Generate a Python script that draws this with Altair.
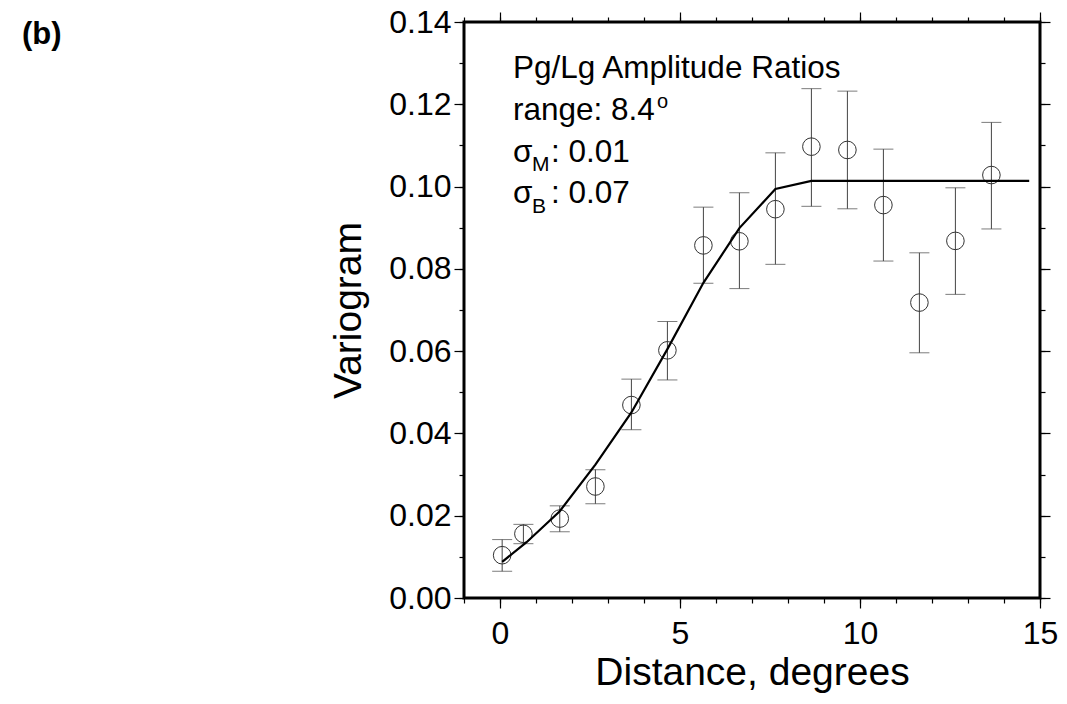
import altair as alt
import pandas as pd

# ---- data ----
dist = [0.06, 0.65, 1.66, 2.65, 3.65, 4.65, 5.65, 6.65, 7.65, 8.65, 9.65, 10.65, 11.65, 12.65, 13.65]
gamma = [0.0104, 0.0156, 0.0193, 0.0271, 0.0469, 0.0602, 0.0857, 0.0867, 0.0945, 0.1097, 0.1089, 0.0955, 0.0718, 0.0868, 0.1028]
err_lo = [0.0065, 0.0132, 0.0161, 0.0229, 0.0409, 0.0530, 0.0765, 0.0752, 0.0811, 0.0952, 0.0946, 0.0819, 0.0596, 0.0738, 0.0897]
err_hi = [0.0142, 0.0179, 0.0224, 0.0312, 0.0532, 0.0672, 0.0950, 0.0985, 0.1082, 0.1238, 0.1232, 0.1091, 0.0839, 0.0997, 0.1156]

model_dist = [0.06, 0.73, 1.66, 2.65, 3.65, 4.65, 5.65, 6.65, 7.65, 8.65, 14.7]
model_gamma = [0.0088, 0.0135, 0.0211, 0.0324, 0.0451, 0.0605, 0.0766, 0.0899, 0.0994, 0.1014, 0.1014]

x_major = [0, 5, 10, 15]
x_minor = list(range(-1, 16))
y_major = [0.0, 0.02, 0.04, 0.06, 0.08, 0.10, 0.12, 0.14]
y_minor = [round(0.01 * i, 2) for i in range(15)]

x_title = "Distance, degrees"
y_title = "Variogram"
panel_label = "(b)"
ann_title = "Pg/Lg Amplitude Ratios"
ann_range = "range: 8.4"
ann_sm = ": 0.01"
ann_sb = ": 0.07"

pts = pd.DataFrame({"dist": dist, "gamma": gamma, "lo": err_lo, "hi": err_hi})
model = pd.DataFrame({"dist": model_dist, "gamma": model_gamma})

FONT = "Liberation Sans"
xs = alt.Scale(domain=[-1, 15], nice=False, zero=False)
ys = alt.Scale(domain=[0, 0.14], nice=False, zero=False)


def axis(orient, values, size, labels=False, title="", fmt=None, **kw):
    d = dict(orient=orient, values=values, tickSize=size, labels=labels,
             domain=False, grid=False, ticks=True, tickColor="black",
             tickWidth=1.2, title=title, labelFlush=False, labelOverlap=False)
    if fmt:
        d["format"] = fmt
    d.update(kw)
    return alt.Axis(**d)


bottom_major = axis("bottom", x_major, 10, labels=True, title=x_title, fmt="d",
                    labelPadding=10, titlePadding=4)
bottom_minor = axis("bottom", x_minor, 5)
top_major = axis("top", x_major, 10)
top_minor = axis("top", x_minor, 5)
left_major = axis("left", y_major, 10, labels=True, title=y_title, fmt=".2f",
                  labelPadding=3, titlePadding=20)
left_minor = axis("left", y_minor, 5)
right_major = axis("right", y_major, 10)
right_minor = axis("right", y_minor, 5)

base = alt.Chart(pts)

bars = base.mark_rule(color="#444444", strokeWidth=1).encode(
    x=alt.X("dist:Q", scale=xs, axis=bottom_major),
    y=alt.Y("lo:Q", scale=ys, axis=left_major),
    y2="hi:Q",
)
caps_hi = base.mark_tick(orient="horizontal", size=20, thickness=1, color="#444444").encode(
    x=alt.X("dist:Q", scale=xs, axis=bottom_minor),
    y=alt.Y("hi:Q", scale=ys, axis=left_minor),
)
caps_lo = base.mark_tick(orient="horizontal", size=20, thickness=1, color="#444444").encode(
    x=alt.X("dist:Q", scale=xs, axis=top_major),
    y=alt.Y("lo:Q", scale=ys, axis=right_major),
)
circles = base.mark_point(shape="circle", size=310, filled=False, color="#333333",
                          strokeWidth=1, opacity=1).encode(
    x=alt.X("dist:Q", scale=xs, axis=top_minor),
    y=alt.Y("gamma:Q", scale=ys, axis=right_minor),
)
line = alt.Chart(model).mark_line(color="black", strokeWidth=2.2).encode(
    x=alt.X("dist:Q", scale=xs, axis=None),
    y=alt.Y("gamma:Q", scale=ys, axis=None),
)

one = alt.Chart(pd.DataFrame({"k": [0]}))


def txt(s, x, y, size, weight="normal"):
    return one.mark_text(text=s, align="left", baseline="alphabetic", font=FONT,
                         fontSize=size, fontWeight=weight, color="black").encode(
        x=alt.value(x), y=alt.value(y))


ann = [
    txt(ann_title, 49, 56, 31.5),
    txt(ann_range, 49, 98, 31.5),
    txt("o", 193, 86, 20),
    txt("\u03c3", 49, 140, 31.5),
    txt("M", 68, 149, 21),
    txt(ann_sm, 87, 140, 31.5),
    txt("\u03c3", 49, 181, 31.5),
    txt("B", 68, 191, 21),
    txt(ann_sb, 87, 181, 31.5),
    txt(panel_label, -442, 22, 31, "bold"),
]

chart = alt.layer(bars, caps_hi, caps_lo, circles, line, *ann).resolve_axis(
    x="independent", y="independent"
).properties(
    width=576, height=576,
    autosize=alt.AutoSizeParams(type="none"),
    padding={"left": 456, "top": 14, "right": 19, "bottom": 98},
).configure_view(
    stroke="black", strokeWidth=3
).configure_axis(
    labelFont=FONT, titleFont=FONT, labelFontSize=32, titleFontSize=39,
    titleFontWeight="normal", labelColor="black", titleColor="black",
)

chart.save("out.html", embed_options={"renderer": "svg", "actions": False})
